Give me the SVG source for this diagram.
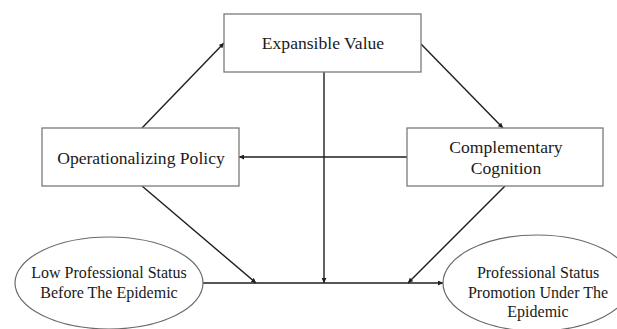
<svg xmlns="http://www.w3.org/2000/svg" width="617" height="329" viewBox="0 0 617 329">
  <style>
    .box { fill: #fff; stroke: #7a7a7a; stroke-width: 1.3; }
    .oval { fill: #fff; stroke: #6a6a6a; stroke-width: 1.2; }
    .lbl { font-size: 17.6px; fill: #1a1a1a; text-anchor: middle; }
    .olbl { font-size: 16px; fill: #1a1a1a; text-anchor: middle; }
    .edge { stroke: #1e1e1e; stroke-width: 1.4; fill: none; marker-end: url(#ah); }
  </style>
  <defs>
    <marker id="ah" viewBox="0 0 10 10" refX="10" refY="5" markerWidth="5" markerHeight="5" orient="auto" markerUnits="userSpaceOnUse">
      <path d="M0,0 L10,5 L0,10 z" fill="#1e1e1e"/>
    </marker>
  </defs>
  <rect width="617" height="329" fill="#fff"/>

  <g id="connectors">
    <line class="edge" x1="142" y1="128" x2="224" y2="43"/>
    <line class="edge" x1="421" y1="44" x2="503" y2="128"/>
    <line class="edge" x1="407" y1="157" x2="239" y2="157"/>
    <line class="edge" x1="324" y1="72" x2="324" y2="283"/>
    <line class="edge" x1="142" y1="186" x2="256" y2="283"/>
    <line class="edge" x1="505" y1="186" x2="408" y2="283"/>
    <line class="edge" x1="203" y1="283" x2="443" y2="283"/>
  </g>

  <g font-family="Liberation Serif, Times New Roman, serif">
    <g id="expansible-value">
      <rect class="box" x="224" y="14" width="197" height="58"/>
      <text class="lbl" x="323" y="49">Expansible Value</text>
    </g>

    <g id="operationalizing-policy">
      <rect class="box" x="42" y="128" width="197" height="58"/>
      <text class="lbl" x="141" y="164">Operationalizing Policy</text>
    </g>

    <g id="complementary-cognition">
      <rect class="box" x="407" y="128" width="196" height="58"/>
      <text class="lbl" x="506" y="153">Complementary</text>
      <text class="lbl" x="506" y="174">Cognition</text>
    </g>

    <g id="low-status">
      <ellipse class="oval" cx="109" cy="283" rx="94" ry="46"/>
      <text class="olbl" x="109" y="278">Low Professional Status</text>
      <text class="olbl" x="109" y="298">Before The Epidemic</text>
    </g>

    <g id="status-promotion">
      <ellipse class="oval" cx="537" cy="283" rx="94" ry="48"/>
      <text class="olbl" x="538" y="278">Professional Status</text>
      <text class="olbl" x="538" y="298">Promotion Under The</text>
      <text class="olbl" x="538" y="317">Epidemic</text>
    </g>
  </g>
</svg>
